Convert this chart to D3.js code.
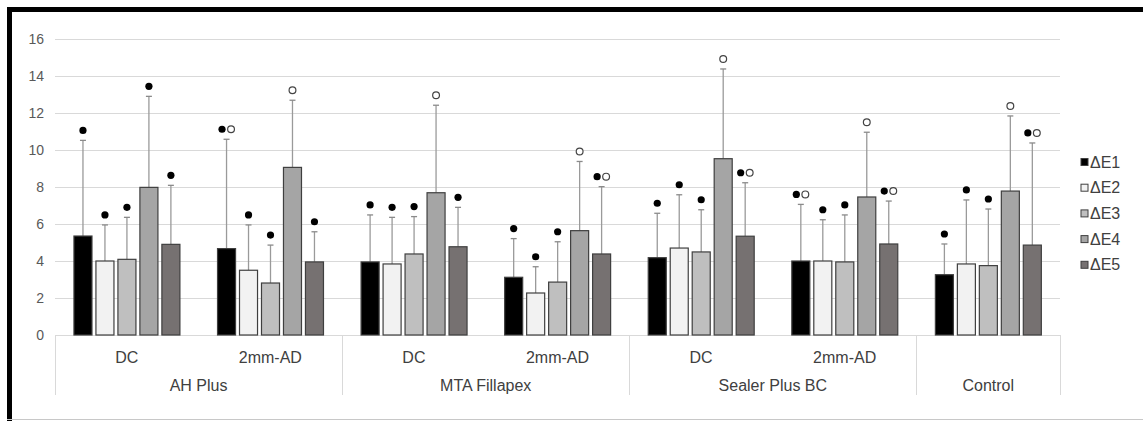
<!DOCTYPE html>
<html>
<head>
<meta charset="utf-8">
<script src="https://cdn.jsdelivr.net/npm/d3@7"></script>
<style>
  html, body { margin: 0; padding: 0; background: #fff; }
  svg { display: block; font-family: "Liberation Sans", Arial, sans-serif; }
</style>
</head>
<body>
<svg id="chart" width="1143" height="421"></svg>
<script>
// ---- data ----
const groups = ["AH Plus", "MTA Fillapex", "Sealer Plus BC", "Control"];
const subcats = [
  { group: "AH Plus", label: "DC" },
  { group: "AH Plus", label: "2mm-AD" },
  { group: "MTA Fillapex", label: "DC" },
  { group: "MTA Fillapex", label: "2mm-AD" },
  { group: "Sealer Plus BC", label: "DC" },
  { group: "Sealer Plus BC", label: "2mm-AD" },
  { group: "Control", label: "" }
];
const seriesNames = ["ΔE1", "ΔE2", "ΔE3", "ΔE4", "ΔE5"];
const seriesColors = ["#000000", "#f2f2f2", "#bfbfbf", "#a5a5a5", "#767171"];
// mean values per subcategory (rows) and series (columns)
const means = [
  [5.35, 4.00, 4.09, 7.98, 4.90],
  [4.67, 3.50, 2.81, 9.06, 3.95],
  [3.95, 3.84, 4.38, 7.69, 4.77],
  [3.12, 2.27, 2.86, 5.64, 4.38],
  [4.18, 4.70, 4.49, 9.53, 5.34],
  [4.00, 4.00, 3.95, 7.46, 4.92],
  [3.26, 3.84, 3.75, 7.78, 4.86]
];
// upper error bar values (mean + SD)
const upper = [
  [10.52, 5.95, 6.36, 12.90, 8.09],
  [10.58, 5.95, 4.86, 12.69, 5.58],
  [6.49, 6.36, 6.40, 12.42, 6.90],
  [5.21, 3.69, 5.04, 9.38, 8.02],
  [6.58, 7.58, 6.77, 14.38, 8.23],
  [7.06, 6.23, 6.49, 10.96, 7.24],
  [4.92, 7.30, 6.81, 11.84, 10.38]
];
// significance markers: "f" filled, "o" open, "fo" both
const markers = [
  ["f", "f", "f", "f", "f"],
  ["fo", "f", "f", "o", "f"],
  ["f", "f", "f", "o", "f"],
  ["f", "f", "f", "o", "fo"],
  ["f", "f", "f", "o", "fo"],
  ["fo", "f", "f", "o", "fo"],
  ["f", "f", "f", "o", "fo"]
];
const yTicks = [0, 2, 4, 6, 8, 10, 12, 14, 16];

// ---- layout ----
const svg = d3.select("#chart");
const W = 1143, H = 421;
const plot = { left: 55, right: 1060, top: 39, bottom: 335 };

// frame
svg.append("rect").attr("x", 0).attr("y", 0).attr("width", W).attr("height", H).attr("fill", "#fff");
svg.append("rect").attr("x", 7).attr("y", 7).attr("width", W - 7).attr("height", 5).attr("fill", "#000");
svg.append("rect").attr("x", 7).attr("y", 7).attr("width", 5).attr("height", H - 7).attr("fill", "#000");
svg.append("line").attr("x1", 7).attr("x2", W).attr("y1", 419.5).attr("y2", 419.5)
  .attr("stroke", "#c8c8c8").attr("stroke-width", 1);

const y = d3.scaleLinear().domain([0, 16]).range([plot.bottom, plot.top]);
const x0 = d3.scaleBand().domain(d3.range(subcats.length)).range([plot.left, plot.right]).padding(0);
const bw = x0.bandwidth();
const x1 = d3.scaleBand().domain(d3.range(seriesNames.length))
  .range([bw * 0.132, bw * 0.87]).paddingInner(0.18).paddingOuter(0);

// gridlines
svg.append("g").selectAll("line").data(yTicks.filter(d => d > 0)).join("line")
  .attr("x1", plot.left).attr("x2", plot.right)
  .attr("y1", d => Math.round(y(d)) + 0.5).attr("y2", d => Math.round(y(d)) + 0.5)
  .attr("stroke", "#d9d9d9").attr("stroke-width", 1);

// y axis labels
const yAxis = d3.axisLeft(y).tickValues(yTicks).tickSize(0).tickPadding(0);
const yg = svg.append("g").attr("transform", `translate(44,0)`).call(yAxis);
yg.select(".domain").remove();
yg.selectAll("text").attr("font-size", 14).attr("fill", "#595959")
  .attr("font-family", "'Liberation Sans', Arial, sans-serif");

// category axis
svg.append("line").attr("x1", plot.left).attr("x2", plot.right)
  .attr("y1", plot.bottom + 0.5).attr("y2", plot.bottom + 0.5)
  .attr("stroke", "#d9d9d9");

// group boundaries
const groupBounds = groups.map(g => {
  const idx = subcats.map((s, i) => s.group === g ? i : -1).filter(i => i >= 0);
  return { name: g, x0: x0(idx[0]), x1: x0(idx[idx.length - 1]) + bw };
});
const boundaryX = [plot.left].concat(groupBounds.map(g => g.x1));
svg.append("g").selectAll("line").data(boundaryX).join("line")
  .attr("x1", d => Math.round(d) + 0.5).attr("x2", d => Math.round(d) + 0.5)
  .attr("y1", plot.bottom).attr("y2", 395)
  .attr("stroke", "#d9d9d9");

svg.append("g").selectAll("text").data(subcats).join("text")
  .attr("x", (d, i) => x0(i) + bw / 2).attr("y", 362.5)
  .attr("text-anchor", "middle").attr("font-size", 16).attr("fill", "#404040")
  .text(d => d.label);

svg.append("g").selectAll("text").data(groupBounds).join("text")
  .attr("x", d => (d.x0 + d.x1) / 2).attr("y", 391)
  .attr("text-anchor", "middle").attr("font-size", 16).attr("fill", "#404040")
  .text(d => d.name);

// bars
const flat = [];
means.forEach((row, i) => row.forEach((v, j) => flat.push({ i, j, v, up: upper[i][j], m: markers[i][j] })));

const cx = d => x0(d.i) + x1(d.j) + x1.bandwidth() / 2;

// error bars
const eb = svg.append("g");
eb.selectAll("line.stem").data(flat).join("line").attr("class", "stem")
  .attr("x1", cx).attr("x2", cx).attr("y1", d => y(d.v)).attr("y2", d => y(d.up))
  .attr("stroke", "#9a9a9a").attr("stroke-width", 1.3);
eb.selectAll("line.cap").data(flat).join("line").attr("class", "cap")
  .attr("x1", d => cx(d) - 3).attr("x2", d => cx(d) + 3).attr("y1", d => y(d.up)).attr("y2", d => y(d.up))
  .attr("stroke", "#8a8a8a").attr("stroke-width", 1.3);

svg.append("g").selectAll("rect").data(flat).join("rect")
  .attr("x", d => x0(d.i) + x1(d.j)).attr("width", x1.bandwidth())
  .attr("y", d => y(d.v)).attr("height", d => y(0) - y(d.v))
  .attr("fill", d => seriesColors[d.j]).attr("stroke", "#3f3f3f").attr("stroke-width", 1.2);

// markers
const mk = svg.append("g");
flat.forEach(d => {
  const my = y(d.up) - 10;
  const x = cx(d);
  if (d.m === "f") {
    mk.append("circle").attr("cx", x).attr("cy", my).attr("r", 3.6).attr("fill", "#000");
  } else if (d.m === "o") {
    mk.append("circle").attr("cx", x).attr("cy", my).attr("r", 3.4).attr("fill", "#fff")
      .attr("stroke", "#444").attr("stroke-width", 1.2);
  } else {
    mk.append("circle").attr("cx", x - 4.5).attr("cy", my).attr("r", 3.6).attr("fill", "#000");
    mk.append("circle").attr("cx", x + 4.5).attr("cy", my).attr("r", 3.4).attr("fill", "#fff")
      .attr("stroke", "#444").attr("stroke-width", 1.2);
  }
});

// legend
const lg = svg.append("g").selectAll("g").data(seriesNames).join("g")
  .attr("transform", (d, i) => `translate(1081, ${162 + i * 25.7})`);
lg.append("rect").attr("x", 0).attr("y", -3.5).attr("width", 7).attr("height", 7)
  .attr("fill", (d, i) => seriesColors[i]).attr("stroke", "#3f3f3f").attr("stroke-width", 1);
lg.append("text").attr("x", 9).attr("y", 5.5).attr("font-size", 16).attr("fill", "#404040").text(d => d);
</script>
</body>
</html>
